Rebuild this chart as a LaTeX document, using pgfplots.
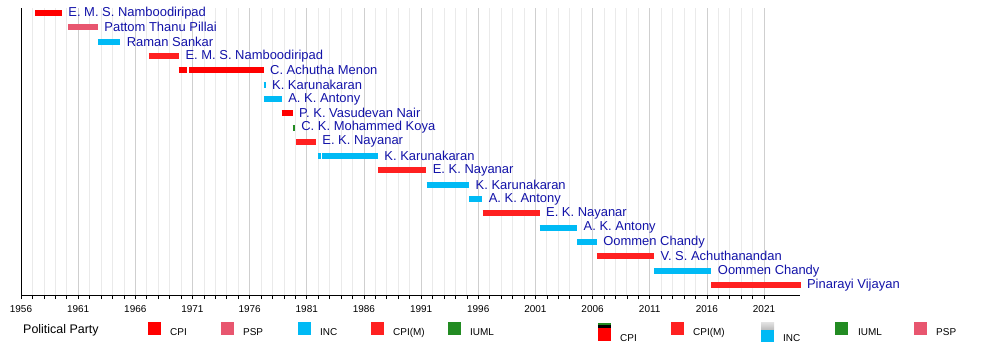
\documentclass[border=0pt]{standalone}
\usepackage{pgfplots}
\pgfplotsset{compat=1.18}
\usepackage{fontspec}
\setmainfont{Liberation Sans}
\definecolor{cpi}{HTML}{FF0000}
\definecolor{cpim}{HTML}{FF2020}
\definecolor{psp}{HTML}{E8566F}
\definecolor{inc}{HTML}{00BAF5}
\definecolor{iuml}{HTML}{228B22}
\definecolor{lblue}{HTML}{1212A8}
\definecolor{majgrid}{HTML}{CFCFCF}
\definecolor{mingrid}{HTML}{EAEAEA}
\tikzset{
  lbl/.style={anchor=west, text=lblue, font=\fontsize{13}{14}\selectfont, inner sep=0pt, xshift=3.5bp},
  bar/.style={line width=6bp, line cap=butt, mark=none},
  lt/.style={anchor=base west, inner sep=0pt, font=\fontsize{10}{12}\selectfont},
}
\begin{document}
\begin{tikzpicture}[x=1bp,y=1bp]
\useasboundingbox (0,0) rectangle (1000,345);
\begin{axis}[
  at={(21bp,50bp)}, anchor=south west,
  scale only axis, width=779bp, height=287bp,
  xmin=1956, xmax=2024.15, ymin=0.30, ymax=20.35,
  clip=false,
  axis lines*=left,
  axis line style={line width=0.8bp, black},
  xtick={1956,1961,...,2021},
  minor x tick num=4,
  ytick=\empty,
  tick align=outside,
  major tick length=4bp, minor tick length=4bp,
  tick style={black, line width=0.6bp},
  xmajorgrids, xminorgrids,
  major grid style={majgrid, line width=0.7bp},
  minor grid style={mingrid, line width=0.7bp},
  /pgf/number format/assume math mode=true,
  xticklabel style={font=\fontsize{10}{12}\selectfont, /pgf/number format/1000 sep={}, yshift=-3bp},
]
\addplot[bar, cpi]  coordinates {(1957.26,20) (1959.58,20)} node[lbl,pos=1]{E. M. S. Namboodiripad};
\addplot[bar, psp]  coordinates {(1960.14,19) (1962.73,19)} node[lbl,pos=1]{Pattom Thanu Pillai};
\addplot[bar, inc]  coordinates {(1962.73,18) (1964.69,18)} node[lbl,pos=1]{Raman Sankar};
\addplot[bar, cpim] coordinates {(1967.18,17) (1969.83,17)} node[lbl,pos=1]{E. M. S. Namboodiripad};
\addplot[bar, cpi]  coordinates {(1969.78,16) (1970.55,16)};
\addplot[bar, cpi]  coordinates {(1970.72,16) (1977.23,16)} node[lbl,pos=1]{C. Achutha Menon};
\addplot[bar, inc]  coordinates {(1977.22,15) (1977.40,15)} node[lbl,pos=1]{K. Karunakaran};
\addplot[bar, inc]  coordinates {(1977.30,14) (1978.82,14)} node[lbl,pos=1]{A. K. Antony};
\addplot[bar, cpi]  coordinates {(1978.80,13) (1979.77,13)} node[lbl,pos=1]{P. K. Vasudevan Nair};
\addplot[bar, iuml] coordinates {(1979.76,12) (1979.96,12)} node[lbl,pos=1]{C. K. Mohammed Koya};
\addplot[bar, cpim] coordinates {(1980.05,11) (1981.80,11)} node[lbl,pos=1]{E. K. Nayanar};
\addplot[bar, inc]  coordinates {(1981.97,10) (1982.21,10)};
\addplot[bar, inc]  coordinates {(1982.37,10) (1987.23,10)} node[lbl,pos=1]{K. Karunakaran};
\addplot[bar, cpim] coordinates {(1987.23,9) (1991.46,9)} node[lbl,pos=1]{E. K. Nayanar};
\addplot[bar, inc]  coordinates {(1991.48,8) (1995.21,8)} node[lbl,pos=1]{K. Karunakaran};
\addplot[bar, inc]  coordinates {(1995.22,7) (1996.36,7)} node[lbl,pos=1]{A. K. Antony};
\addplot[bar, cpim] coordinates {(1996.38,6) (2001.37,6)} node[lbl,pos=1]{E. K. Nayanar};
\addplot[bar, inc]  coordinates {(2001.37,5) (2004.66,5)} node[lbl,pos=1]{A. K. Antony};
\addplot[bar, inc]  coordinates {(2004.66,4) (2006.38,4)} node[lbl,pos=1]{Oommen Chandy};
\addplot[bar, cpim] coordinates {(2006.38,3) (2011.38,3)} node[lbl,pos=1]{V. S. Achuthanandan};
\addplot[bar, inc]  coordinates {(2011.38,2) (2016.40,2)} node[lbl,pos=1]{Oommen Chandy};
\addplot[bar, cpim] coordinates {(2016.40,1) (2024.20,1)} node[lbl,pos=1]{Pinarayi Vijayan};
\end{axis}
% legend
\node[anchor=base west, inner sep=0pt, font=\fontsize{12.5}{14}\selectfont] at (23,12) {Political Party};
\fill[cpi]  (148,10) rectangle (161,23); \node[lt] at (170,10) {CPI};
\fill[psp]  (221,10) rectangle (234,23); \node[lt] at (243,10) {PSP};
\fill[inc]  (298,10) rectangle (311,23); \node[lt] at (320,10) {INC};
\fill[cpim] (371,10) rectangle (384,23); \node[lt] at (393,10) {CPI(M)};
\fill[iuml] (448,10) rectangle (461,23); \node[lt] at (470,10) {IUML};
% second legend
\fill[cpi] (598,4) rectangle (611,17);
\fill[black] (598,17) rectangle (611,20);
\fill[iuml] (598,20) rectangle (611,22.5);
\node[lt] at (620,4) {CPI};
\fill[cpim] (671,10) rectangle (684,23); \node[lt] at (693,10) {CPI(M)};
\fill[inc] (761,3) rectangle (774,16);
\shade[top color=black!12, bottom color=black!25] (761,16) rectangle (774,22.5);
\node[lt] at (783,4) {INC};
\fill[iuml] (835,10) rectangle (848,23); \node[lt] at (858,10) {IUML};
\fill[psp]  (914,10) rectangle (927,23); \node[lt] at (936,10) {PSP};
\end{tikzpicture}
\end{document}
